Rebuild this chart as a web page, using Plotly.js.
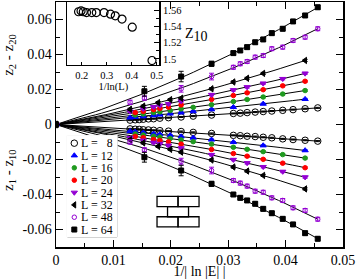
<!DOCTYPE html>
<html><head><meta charset="utf-8">
<script src="https://cdn.plot.ly/plotly-3.0.1.min.js"></script>
<style>html,body{margin:0;padding:0;background:#fff}#chart{width:357px;height:279px}</style>
</head><body><div id="chart"></div>
<script>
// ---- data ----
const sizes = ['8','12','16','20','24','32','48','64'];
const legendLabels = ['L =\u00a0\u00a0\u00a08','L = 12','L = 16','L = 20','L = 24','L = 32','L = 48','L = 64'];

const x8  = [0,0.0129,0.0138,0.0145,0.0152,0.0161,0.0170,0.0181,0.0196,0.0218,0.0239,0.0271,0.0309,0.0321,0.0333,0.0347,0.0361,0.0376,0.0395,0.0413,0.0434,0.0456];
const up8 = [0,0.0025,0.0027,0.0028,0.0030,0.0032,0.0033,0.0036,0.0039,0.0043,0.0048,0.0054,0.0063,0.0065,0.0068,0.0071,0.0074,0.0077,0.0081,0.0085,0.0090,0.0095];
const lo8 = [0,-0.0025,-0.0027,-0.0028,-0.0030,-0.0031,-0.0033,-0.0035,-0.0038,-0.0040,-0.0045,-0.0051,-0.0062,-0.0064,-0.0067,-0.0069,-0.0073,-0.0076,-0.0082,-0.0086,-0.0090,-0.0095];
const err8 = [0,0.0003,0.0003,0.0003,0.0003,0.0003,0.0003,0.0003,0.0003,0.0003,0.0003,0.0003,0.0003,0.0003,0.0003,0.0003,0.0003,0.0003,0.0003,0.0003,0.0003,0.0003];

const x12  = [0,0.0129,0.0138,0.0152,0.0170,0.0181,0.0199,0.0218,0.0239,0.0271,0.0309,0.0361,0.0434];
const up12 = [0,0.0039,0.0042,0.0046,0.0052,0.0056,0.0062,0.0068,0.0075,0.0086,0.0099,0.0118,0.0145];
const lo12 = [0,-0.0039,-0.0042,-0.0047,-0.0053,-0.0056,-0.0062,-0.0069,-0.0076,-0.0087,-0.0101,-0.0120,-0.0148];
const err12 = [0,0.0004,0.0004,0.0004,0.0004,0.0004,0.0004,0.0004,0.0004,0.0004,0.0004,0.0004,0.0004];

const x16  = [0,0.0138,0.0152,0.0170,0.0181,0.0199,0.0218,0.0239,0.0271,0.0309,0.0333,0.0361,0.0395,0.0434];
const up16 = [0,0.0054,0.0060,0.0068,0.0072,0.0080,0.0089,0.0098,0.0113,0.0131,0.0143,0.0157,0.0174,0.0194];
const lo16 = [0,-0.0054,-0.0060,-0.0067,-0.0072,-0.0080,-0.0088,-0.0098,-0.0112,-0.0130,-0.0142,-0.0155,-0.0172,-0.0192];
const err16 = [0,0.0005,0.0005,0.0005,0.0005,0.0005,0.0005,0.0005,0.0005,0.0005,0.0005,0.0005,0.0005,0.0005];

const x20  = [0,0.0138,0.0152,0.0170,0.0181,0.0196,0.0218,0.0271,0.0309,0.0333,0.0361,0.0395,0.0434];
const up20 = [0,0.0068,0.0075,0.0085,0.0091,0.0099,0.0112,0.0143,0.0166,0.0181,0.0199,0.0221,0.0247];
const lo20 = [0,-0.0068,-0.0075,-0.0085,-0.0091,-0.0099,-0.0112,-0.0143,-0.0166,-0.0181,-0.0199,-0.0221,-0.0247];
const err20 = [0,0.0005,0.0005,0.0005,0.0005,0.0005,0.0005,0.0005,0.0005,0.0005,0.0005,0.0005,0.0005];

const x24  = [0,0.0129,0.0152,0.0170,0.0181,0.0196,0.0218,0.0271,0.0309,0.0333,0.0361,0.0395,0.0434];
const up24 = [0,0.0075,0.0090,0.0101,0.0109,0.0118,0.0133,0.0170,0.0197,0.0214,0.0235,0.0261,0.0292];
const lo24 = [0,-0.0076,-0.0091,-0.0103,-0.0110,-0.0120,-0.0135,-0.0173,-0.0201,-0.0220,-0.0242,-0.0269,-0.0301];
const err24 = [0,0.0006,0.0006,0.0006,0.0006,0.0006,0.0006,0.0006,0.0006,0.0006,0.0006,0.0006,0.0006];

const x32  = [0,0.0129,0.0152,0.0178,0.0199,0.0218,0.0271,0.0309,0.0333,0.0361,0.0434];
const up32 = [0,0.0087,0.0105,0.0125,0.0142,0.0150,0.0204,0.0243,0.0264,0.0292,0.0366];
const lo32 = [0,-0.0087,-0.0105,-0.0125,-0.0142,-0.0158,-0.0203,-0.0243,-0.0266,-0.0291,-0.0368];
const err32 = [0,0.0006,0.0006,0.0006,0.0006,0.0006,0.0006,0.0006,0.0006,0.0006,0.0006];

const x48  = [0,0.0129,0.0154,0.0218,0.0271,0.0309,0.0321,0.0333,0.0347,0.0361,0.0376,0.0395,0.0413,0.0434,0.0456];
const up48 = [0,0.0127,0.0151,0.0204,0.0274,0.0327,0.0347,0.0360,0.0385,0.0394,0.0433,0.0442,0.0480,0.0499,0.0547];
const lo48 = [0,-0.0100,-0.0145,-0.0212,-0.0263,-0.0320,-0.0335,-0.0352,-0.0381,-0.0387,-0.0419,-0.0434,-0.0476,-0.0491,-0.0541];
const err48 = [0,0.0012,0.0012,0.0019,0.0019,0.0011,0.0011,0.0011,0.0011,0.0011,0.0011,0.0011,0.0011,0.0011,0.0011];

const x64  = [0,0.0154,0.0218,0.0271,0.0309,0.0321,0.0333,0.0347,0.0361,0.0376,0.0395,0.0413,0.0434,0.0456];
const up64 = [0,0.0190,0.0274,0.0347,0.0408,0.0423,0.0442,0.0470,0.0486,0.0522,0.0547,0.0589,0.0623,0.0670];
const lo64 = [0,-0.0187,-0.0263,-0.0339,-0.0400,-0.0419,-0.0434,-0.0453,-0.0482,-0.0507,-0.0539,-0.0571,-0.0621,-0.0653];
const err64 = [0,0.0028,0.0030,0.0014,0.0011,0.0011,0.0011,0.0011,0.0011,0.0011,0.0011,0.0011,0.0011,0.0011];

// fitted curves y = a x + b x^2 (upper: z2-z20, lower: z1-z10)
const fitUpA = [0.19,0.29,0.365,0.456,0.547,0.604,0.731,1.006];
const fitUpB = [0.4,1.0,1.9,2.6,2.9,5.5,10.3,10.1];
const fitLoA = [-0.19,-0.29,-0.365,-0.456,-0.547,-0.604,-0.731,-1.006];
const fitLoB = [-0.4,-1.2,-1.8,-2.6,-3.4,-5.6,-10.0,-9.3];

// inset: Z10 vs 1/ln(L)
const invLnL = [0.481,0.402,0.361,0.334,0.315,0.289,0.258,0.240,0.219,0.206,0.197,0.187];
const z10    = [1.498,1.539,1.549,1.553,1.555,1.557,1.557,1.557,1.557,1.558,1.559,1.558];

// ticks
const yTickVals = [-0.06,-0.04,-0.02,0,0.02,0.04,0.06];
const yTickText = ['-0.06','-0.04','-0.02','0','0.02','0.04','0.06'];
const xTickVals = [0,0.01,0.02,0.03,0.04,0.05];
const xTickText = ['0','0.01','0.02','0.03','0.04','0.05'];
const inXTickVals = [0.2,0.3,0.4,0.5];
const inYTickVals = [1.5,1.52,1.54,1.56];

// ---- styling ----
const FONT = 'Liberation Serif, Times New Roman, serif';
const PURPLE = '#9400d3';
const styles = [
  {symbol:'circle-open', color:'#000000', size:6.5},
  {symbol:'triangle-up', color:'#0000ff', size:5.5},
  {symbol:'circle', color:'#1f9a1f', size:4.5},
  {symbol:'circle', color:'#ff0000', size:4.5},
  {symbol:'triangle-down', color:PURPLE, size:5.5},
  {symbol:'triangle-left', color:'#000000', size:5.5},
  {symbol:'circle-open', color:PURPLE, size:4.5},
  {symbol:'square', color:'#000000', size:5}
];
const xs = [x8,x12,x16,x20,x24,x32,x48,x64];
const ups = [up8,up12,up16,up20,up24,up32,up48,up64];
const los = [lo8,lo12,lo16,lo20,lo24,lo32,lo48,lo64];
const errs = [err8,err12,err16,err20,err24,err32,err48,err64];

const traces = [];
function curve(a,b,xmax){
  const cx=[],cy=[];
  for(let i=0;i<=40;i++){const x=xmax*i/40; cx.push(x); cy.push(a*x+b*x*x);}
  return {x:cx,y:cy};
}
for(let k=0;k<sizes.length;k++){
  const xmax = Math.max(...xs[k]);
  const cu = curve(fitUpA[k],fitUpB[k],xmax);
  const cl = curve(fitLoA[k],fitLoB[k],xmax);
  traces.push({x:cu.x,y:cu.y,mode:'lines',line:{color:'#000',width:1},showlegend:false,hoverinfo:'skip',xaxis:'x',yaxis:'y'});
  traces.push({x:cl.x,y:cl.y,mode:'lines',line:{color:'#000',width:1},showlegend:false,hoverinfo:'skip',xaxis:'x',yaxis:'y'});
}
for(let k=0;k<sizes.length;k++){
  const s = styles[k];
  const mk = {symbol:s.symbol,color:s.color,size:s.size,line:{color:s.color,width:1}};
  const eb = {type:'data',array:errs[k],visible:true,color:s.color,thickness:1,width:2.5};
  traces.push({x:xs[k],y:ups[k],mode:'markers',marker:mk,error_y:eb,name:'L = '+sizes[k],showlegend:false,xaxis:'x',yaxis:'y'});
  traces.push({x:xs[k],y:los[k],mode:'markers',marker:mk,error_y:eb,name:'L = '+sizes[k],showlegend:false,xaxis:'x',yaxis:'y'});
}
// inset
traces.push({x:invLnL,y:z10,mode:'markers',marker:{symbol:'circle-open',color:'#000',size:8,line:{width:1.2,color:'#000'}},xaxis:'x2',yaxis:'y2',showlegend:false});
// hand-built legend markers
const annotations = [];
for(let k=0;k<sizes.length;k++){
  const s = styles[k];
  traces.push({x:[0],y:[k],mode:'markers',marker:{symbol:s.symbol,color:s.color,size:s.size,line:{color:s.color,width:1}},xaxis:'x3',yaxis:'y3',showlegend:false,hoverinfo:'skip'});
  annotations.push({xref:'x3',yref:'y3',x:0.75,y:k,text:legendLabels[k],showarrow:false,xanchor:'left',yanchor:'middle',borderpad:0,height:12,font:{family:FONT,size:12,color:'#000'}});
}
annotations.push({xref:'paper',yref:'paper',x:0.491,y:0.865,text:'Z<sub><span style="font-size:14px">10</span></sub>',showarrow:false,xanchor:'center',yanchor:'middle',font:{family:FONT,size:14,color:'#000'}});
annotations.push({xref:'paper',yref:'paper',x:-0.164,y:0.784,text:'z<sub>2</sub> - z<sub>20</sub>',textangle:-90,showarrow:false,xanchor:'center',yanchor:'middle',font:{family:FONT,size:15,color:'#000'}});
annotations.push({xref:'paper',yref:'paper',x:-0.164,y:0.314,text:'z<sub>1</sub> - z<sub>10</sub>',textangle:-90,showarrow:false,xanchor:'center',yanchor:'middle',font:{family:FONT,size:15,color:'#000'}});

// brick lattice icon
const bx0=0.352, bw=0.0732, by0=0.082, bh=0.0415;
const shapes = [
  {type:'rect',xref:'x3 domain',yref:'y3 domain',x0:0.015,x1:0.985,y0:0.006,y1:0.994,line:{color:'#000',width:1},fillcolor:'#fff',layer:'below'},
  {type:'rect',xref:'paper',yref:'paper',x0:bx0,x1:bx0+bw,y0:by0+2*bh,y1:by0+3*bh,line:{color:'#000',width:1.3}},
  {type:'rect',xref:'paper',yref:'paper',x0:bx0+bw,x1:bx0+2*bw,y0:by0+2*bh,y1:by0+3*bh,line:{color:'#000',width:1.3}},
  {type:'rect',xref:'paper',yref:'paper',x0:bx0+bw/2,x1:bx0+1.5*bw,y0:by0+bh,y1:by0+2*bh,line:{color:'#000',width:1.3}},
  {type:'rect',xref:'paper',yref:'paper',x0:bx0,x1:bx0+bw,y0:by0,y1:by0+bh,line:{color:'#000',width:1.3}},
  {type:'rect',xref:'paper',yref:'paper',x0:bx0+bw,x1:bx0+2*bw,y0:by0,y1:by0+bh,line:{color:'#000',width:1.3}}
];

const axBase = {showgrid:false,zeroline:false,showline:true,linecolor:'#000',linewidth:1.5,ticks:'inside',tickcolor:'#000',tickwidth:1,
  tickfont:{family:FONT,size:14,color:'#000'}};
const layout = {
  width:357,height:279,margin:{l:56,r:14,t:2,b:32},paper_bgcolor:'#fff',plot_bgcolor:'#fff',showlegend:false,
  font:{family:FONT,color:'#000'},
  xaxis:Object.assign({},axBase,{domain:[0,1],range:[0,0.05],tickmode:'array',tickvals:xTickVals,ticktext:xTickText,ticklen:7,mirror:'ticks',
    minor:{tickmode:'linear',tick0:0,dtick:0.005,ticks:'inside',ticklen:4,tickcolor:'#000'},
    title:{text:'1/| ln |E| |',font:{family:FONT,size:14,color:'#000'},standoff:2},anchor:'y'}),
  yaxis:Object.assign({},axBase,{domain:[0,1],range:[-0.07,0.07],tickmode:'array',tickvals:yTickVals,ticktext:yTickText,ticklen:7,mirror:'ticks',
    minor:{tickmode:'linear',tick0:0,dtick:0.01,ticks:'inside',ticklen:4,tickcolor:'#000'},anchor:'x'}),
  xaxis2:Object.assign({},axBase,{domain:[0.0394,0.3606],range:[0.142,0.511],anchor:'y2',tickmode:'array',tickvals:inXTickVals,ticklen:3,mirror:true,
    tickfont:{family:FONT,size:10.5,color:'#000'},title:{text:'1/ln(L)',font:{family:FONT,size:10.5,color:'#000'},standoff:0}}),
  yaxis2:Object.assign({},axBase,{domain:[0.743,1],range:[1.4925,1.57],anchor:'x2',side:'right',tickmode:'array',tickvals:inYTickVals,ticklen:5,mirror:true,
    minor:{tickmode:'linear',tick0:1.5,dtick:0.01,ticks:'inside',ticklen:3,tickcolor:'#000'},
    tickfont:{family:FONT,size:10.5,color:'#000'}}),
  xaxis3:{domain:[0.0373,0.2150],range:[-1,5.71],visible:false,fixedrange:true,anchor:'y3'},
  yaxis3:{domain:[0.038,0.457],range:[7.66,-0.66],visible:false,fixedrange:true,anchor:'x3'},
  annotations:annotations,shapes:shapes
};
Plotly.newPlot('chart',traces,layout,{staticPlot:true,displayModeBar:false});
</script></body></html>
